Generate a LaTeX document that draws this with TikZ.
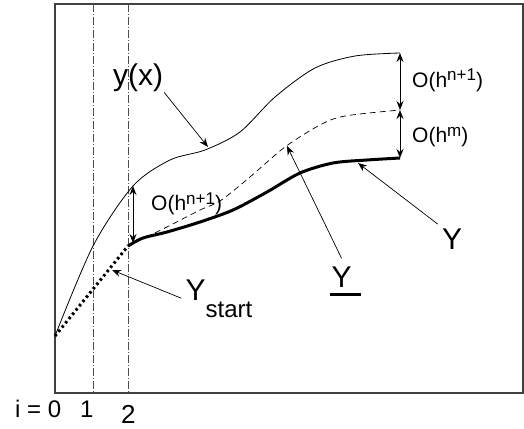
\documentclass[tikz,border=0pt]{standalone}
\usepackage{fontspec}
\setmainfont{Liberation Sans}
\usetikzlibrary{arrows.meta}
\newcommand{\hsup}[1]{\raisebox{6pt}{\fontsize{17}{17}\selectfont #1}}
\newcommand{\lowsub}[1]{\raisebox{-17pt}{\fontsize{24}{24}\selectfont #1}}
\begin{document}
\begin{tikzpicture}[x=1pt,y=-1pt,
  lbl/.style={inner sep=1pt,font=\fontsize{21}{21}\selectfont},
  big/.style={inner sep=1pt,font=\fontsize{30}{30}\selectfont},
  idx/.style={inner sep=0pt,font=\fontsize{24}{24}\selectfont},
  ptr/.style={-{Stealth[length=9pt,width=7pt,inset=3pt]},line width=0.7pt},
  gap/.style={{Stealth[length=9pt,width=7pt,inset=3pt]}-{Stealth[length=9pt,width=7pt,inset=3pt]},line width=1pt},
  grid/.style={black!70,line width=0.6pt,dash pattern=on 8pt off 2pt on 1pt off 2pt}]
  \useasboundingbox (0,0) rectangle (524,428);
  \draw[black!75,line width=1.4pt] (55,4) rectangle (523,393);
  \draw[grid] (93,4) -- (93,393);
  \draw[grid] (128,4) -- (128,393);
  % curves
  \coordinate (orig) at (55,336);
  \coordinate (start) at (128,246);
  \coordinate (yxend) at (400,53);
  \coordinate (dashend) at (400,110);
  \coordinate (thickend) at (400,158);
  \draw[line width=0.8pt] plot[smooth,tension=0.5] coordinates {(orig) (93,246)
    (133,186) (170,160) (205,150) (240,132) (275,97) (315,68) (355,56)
    (yxend)};
  \draw[line width=0.7pt,dash pattern=on 6pt off 4pt] plot[smooth] coordinates
    {(start) (140,240) (165,228) (200,210) (220,201) (250,177) (285,147)
    (320,125) (345,116) (dashend)};
  \draw[line width=3pt] plot[smooth] coordinates {(start) (143,238) (167,232)
    (200,222) (233,210) (267,192) (300,173) (333,163) (367,160) (thickend)};
  \draw[line width=3pt,dash pattern=on 2.5pt off 3pt] (orig) -- (start);
  % gaps
  \coordinate (gaptop) at (133,186);
  \coordinate (gapbot) at (133,243);
  \draw[gap] (yxend) -- (dashend);
  \draw[gap] (dashend) -- (thickend);
  \draw[gap] (gaptop) -- (gapbot);
  \node[lbl,anchor=base west] (onright) at (411,87) {O(h\hsup{n+1})};
  \node[lbl,anchor=base west] (omright) at (411,142) {O(h\hsup{m})};
  \node[lbl,anchor=base west] (onleft) at (150,210) {O(h\hsup{n+1})};
  % labels and pointers
  \coordinate (yxtip) at (208,147);
  \coordinate (dashtip) at (287,146);
  \coordinate (thicktip) at (358,163);
  \coordinate (starttip) at (112,270);
  \node[big,anchor=base] (yx) at (138,85) {y(x)};
  \node[big,anchor=base,inner sep=4pt] (yr) at (452,249) {Y};
  \node[big,anchor=base,inner sep=8pt] (yu) at (341.5,287)
    {\rlap{\hspace{-2pt}\rule[-8.5pt]{31pt}{3pt}}Y};
  \node[big,anchor=base,inner sep=4pt] (ys) at (219,300) {Y\lowsub{start}};
  \draw[ptr] (yx.south east) -- (yxtip);
  \draw[ptr] (yu.north) -- (dashtip);
  \draw[ptr] (yr.north west) -- (thicktip);
  \draw[ptr] (ys.west) -- (starttip);
  % index
  \node[idx,anchor=base west] (i0) at (15,417) {i = 0};
  \node[idx,anchor=base west] (i1) at (80,417) {1};
  \node[idx,anchor=base west,font=\fontsize{26}{26}\selectfont] (i2) at (121,423) {2};
\end{tikzpicture}
\end{document}
